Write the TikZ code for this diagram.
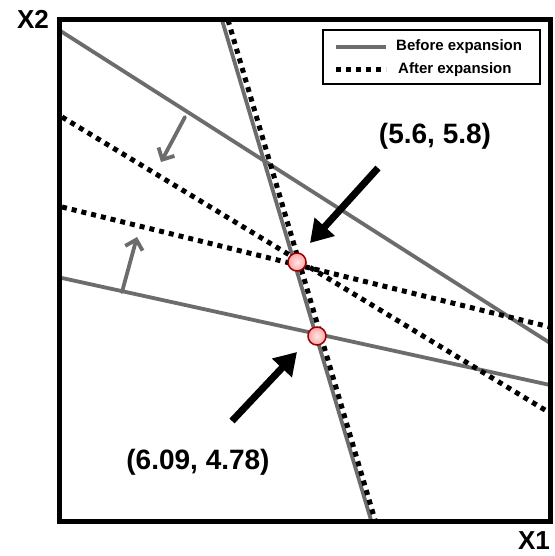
\documentclass[tikz,border=0pt]{standalone}
\usepackage{fontspec}
\setmainfont{Liberation Sans}
\usetikzlibrary{arrows.meta}
\begin{document}
\begin{tikzpicture}[x=1pt,y=-1pt,
  grayline/.style={draw=gray!85!black, line width=3.8pt},
  dotline/.style={draw=black, line width=5pt, dash pattern=on 5pt off 5pt},
  frameline/.style={draw=black, line width=5pt},
  grayarrow/.style={draw=gray!85!black, line width=3.8pt, line cap=round, -{Straight Barb[length=9pt,width=18pt,line width=3.8pt]}},
  bigarrow/.style={draw=black, line width=7pt, -{Triangle[length=22pt,width=26pt]}},
  pt/.style={circle, draw=red!60!black, line width=1.5pt, inner sep=0pt, minimum size=18pt, inner color=red!10, outer color=red!35},
  lbl/.style={font=\bfseries\fontsize{28}{30}\selectfont, inner sep=0pt},
  axis/.style={font=\bfseries\fontsize{26}{28}\selectfont, inner sep=0pt},
  legtext/.style={font=\bfseries\fontsize{15}{17}\selectfont, inner sep=0pt, anchor=west}]
\useasboundingbox (0,0) rectangle (554,556);
% coordinates of the line ends
\coordinate (v1) at (222,20);
\coordinate (v2) at (371,520);
\coordinate (w1) at (228,20);
\coordinate (w2) at (375,520);
\coordinate (g1a) at (59,30);
\coordinate (g1b) at (550,343);
\coordinate (g2a) at (62,278);
\coordinate (g2b) at (550,385);
\coordinate (d1a) at (62,117);
\coordinate (d1b) at (550,413);
\coordinate (d2a) at (62,207);
\coordinate (d2b) at (550,327);
\begin{scope}
\clip (59,20) rectangle (550,521);
\draw[grayline] (v1) -- (v2);
\draw[grayline] (g1a) -- (g1b);
\draw[grayline] (g2a) -- (g2b);
\draw[dotline] (d1a) -- (d1b);
\draw[dotline] (d2a) -- (d2b);
\draw[dotline] (w1) -- (w2);
\end{scope}
% gray arrows
\coordinate (ga1s) at (185,117);
\coordinate (ga1e) at (161,162);
\coordinate (ga2s) at (122,292);
\coordinate (ga2e) at (137,237);
\draw[grayarrow] (ga1s) -- (ga1e);
\draw[grayarrow] (ga2s) -- (ga2e);
% points
\node[pt] (p1) at (297,262) {};
\node[pt] (p2) at (317,336) {};
% black arrows
\coordinate (ba1s) at (378,168);
\coordinate (ba1e) at (310,243);
\coordinate (ba2s) at (232,421);
\coordinate (ba2e) at (297,352);
\draw[bigarrow] (ba1s) -- (ba1e);
\draw[bigarrow] (ba2s) -- (ba2e);
% labels
\node[lbl] (l1) at (435,136) {(5.6, 5.8)};
\node[lbl] (l2) at (198,462) {(6.09, 4.78)};
% frame
\draw[frameline] (59,20) rectangle (550,521);
\node[axis] (x2) at (33,19) {X2};
\node[axis] (x1) at (534,541) {X1};
% legend
\node[draw=black, line width=2pt, fill=white, minimum width=217pt, minimum height=54pt, inner sep=0pt] (leg) at (431.5,57.5) {};
\coordinate (la1) at (336,47);
\coordinate (la2) at (386,47);
\coordinate (lb1) at (336,70);
\coordinate (lb2) at (386,70);
\draw[grayline] (la1) -- (la2);
\draw[dotline] (lb1) -- (lb2);
\node[legtext] (lt1) at (396,47) {Before expansion};
\node[legtext] (lt2) at (398,70) {After expansion};
\end{tikzpicture}
\end{document}
